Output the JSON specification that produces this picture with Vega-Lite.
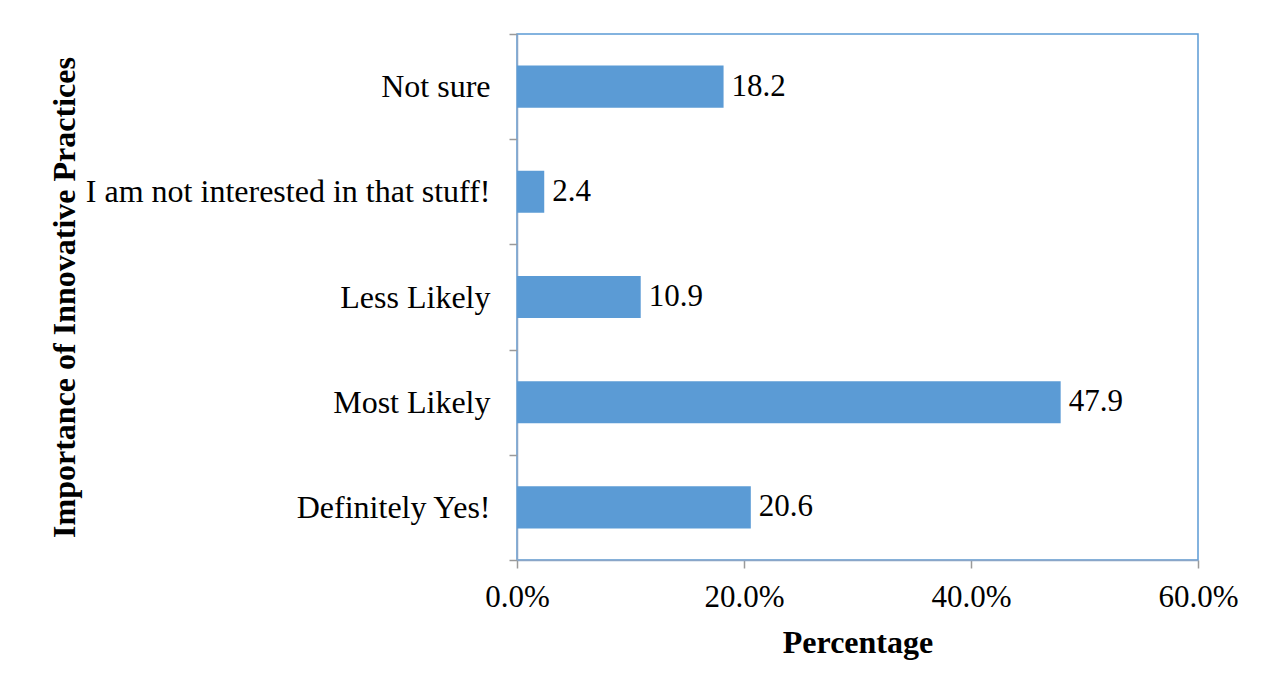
{
  "$schema": "https://vega.github.io/schema/vega-lite/v6.json",
  "width": 681,
  "height": 526,
  "autosize": {"type": "none"},
  "padding": {"left": 517, "top": 34, "right": 70, "bottom": 129},
  "background": "white",
  "config": {
    "font": "Liberation Serif",
    "view": {"stroke": "#5b9bd5", "strokeWidth": 1.5},
    "axis": {
      "labelFont": "Liberation Serif",
      "labelFontSize": 32,
      "labelColor": "#000000",
      "titleFont": "Liberation Serif",
      "titleFontSize": 32,
      "titleFontWeight": "bold",
      "titleColor": "#000000",
      "domainColor": "#8aa6c8",
      "domainWidth": 1.5,
      "tickColor": "#9a9a9a",
      "tickWidth": 1.5,
      "tickSize": 8,
      "grid": false
    }
  },
  "data": {
    "values": [
      {"response": "Not sure", "percent": 18.2},
      {"response": "I am not interested in that stuff!", "percent": 2.4},
      {"response": "Less Likely", "percent": 10.9},
      {"response": "Most Likely", "percent": 47.9},
      {"response": "Definitely Yes!", "percent": 20.6}
    ]
  },
  "encoding": {
    "y": {
      "field": "response",
      "type": "nominal",
      "sort": null,
      "scale": {"paddingInner": 0, "paddingOuter": 0},
      "axis": {
        "title": "Importance of Innovative Practices",
        "tickBand": "extent",
        "labelPadding": 19,
        "labelLimit": 520,
        "titleAngle": -90,
        "titleBaseline": "alphabetic",
        "titleX": -443,
        "titleY": 263,
        "titleAlign": "center"
      }
    },
    "x": {
      "field": "percent",
      "type": "quantitative",
      "scale": {"domain": [0, 60], "nice": false},
      "axis": {
        "title": "Percentage",
        "values": [0, 20, 40, 60],
        "labelExpr": "format(datum.value, '.1f') + '%'",
        "labelFontSize": 31,
        "labelPadding": 14,
        "labelFlush": false,
        "titleBaseline": "alphabetic",
        "titleY": 92,
        "titleX": 340.5
      }
    }
  },
  "layer": [
    {"mark": {"type": "bar", "color": "#5b9bd5", "height": {"band": 0.4}}},
    {
      "mark": {
        "type": "text",
        "align": "left",
        "baseline": "middle",
        "dx": 8,
        "fontSize": 31,
        "font": "Liberation Serif",
        "color": "#000000"
      },
      "encoding": {"text": {"field": "percent", "type": "quantitative", "format": ".1f"}}
    }
  ]
}
